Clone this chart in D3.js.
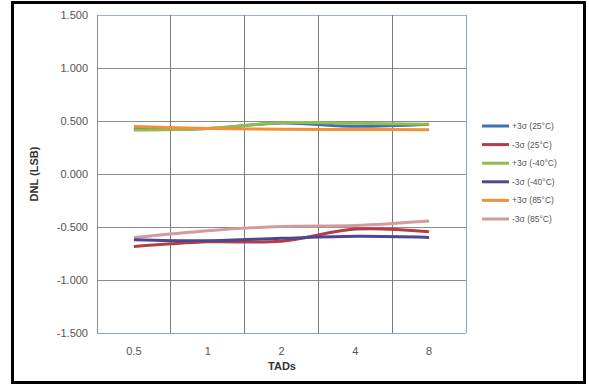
<!DOCTYPE html>
<html><head><meta charset="utf-8">
<script src="https://cdn.jsdelivr.net/npm/d3@7"></script>
<style>body{margin:0;background:#fff}svg{display:block}</style>
</head><body>
<svg id="c" width="589" height="385"></svg>
<script>
const categories = ["0.5", "1", "2", "4", "8"];
const seriesNames = ["+3σ (25°C)", "-3σ (25°C)", "+3σ (-40°C)", "-3σ (-40°C)", "+3σ (85°C)", "-3σ (85°C)"];
const plus25 = [0.42, 0.43, 0.48, 0.45, 0.47];
const minus25 = [-0.685, -0.64, -0.635, -0.52, -0.545];
const plusM40 = [0.415, 0.43, 0.483, 0.478, 0.47];
const minusM40 = [-0.62, -0.63, -0.607, -0.588, -0.598];
const plus85 = [0.448, 0.43, 0.422, 0.42, 0.418];
const minus85 = [-0.60, -0.535, -0.495, -0.485, -0.443];
const yTicks = [-1.5, -1.0, -0.5, 0, 0.5, 1.0, 1.5];
const colors = ["#3f70b5", "#b63c47", "#8dbf4e", "#4e468e", "#f2913a", "#d39ba0"];
const allSeries = [plus25, minus25, plusM40, minusM40, plus85, minus85];
// draw order: so that green covers blue, orange visible
const drawOrder = [0, 2, 4, 5, 1, 3];

const svg = d3.select("#c");
const L = 97, R = 466, T = 15, B = 333;

svg.append("rect").attr("x", 12.5).attr("y", 2.5).attr("width", 572).attr("height", 380)
  .attr("fill", "#fff").attr("stroke", "#000").attr("stroke-width", 3);

const x = d3.scaleBand().domain(categories).range([L, R]).padding(0);
const y = d3.scaleLinear().domain([-1.5, 1.5]).range([B, T]);

// horizontal gridlines
svg.append("g").selectAll("line").data(yTicks).join("line")
  .attr("x1", L).attr("x2", R).attr("y1", d => y(d)).attr("y2", d => y(d))
  .attr("stroke", d => d === 1.5 ? "#9fb0d4" : "#8c8c8c").attr("stroke-width", 1).attr("shape-rendering", "crispEdges");
// vertical gridlines at band boundaries
svg.append("g").selectAll("line").data(categories.slice(1)).join("line")
  .attr("x1", d => x(d)).attr("x2", d => x(d)).attr("y1", T).attr("y2", B)
  .attr("stroke", "#7a7a7a").attr("stroke-width", 1).attr("shape-rendering", "crispEdges");
// plot borders
svg.append("line").attr("x1", R).attr("x2", R).attr("y1", T).attr("y2", B).attr("stroke", "#8fa2cc").attr("shape-rendering", "crispEdges");
svg.append("line").attr("x1", L).attr("x2", L).attr("y1", T).attr("y2", B).attr("stroke", "#8c8c8c").attr("shape-rendering", "crispEdges");
svg.append("line").attr("x1", L).attr("x2", R).attr("y1", B).attr("y2", B).attr("stroke", "#8fa2cc").attr("shape-rendering", "crispEdges");

// y tick labels
const fmt = d => d3.format(".3f")(d).replace("\u2212", "-");
svg.append("g").selectAll("text").data(yTicks).join("text")
  .attr("x", 88).attr("y", d => y(d)).attr("dy", "0.35em").attr("text-anchor", "end")
  .attr("font-family", "Arial, Liberation Sans, sans-serif").attr("font-size", 11).attr("fill", "#555")
  .text(fmt);
// x tick labels
svg.append("g").selectAll("text").data(categories).join("text")
  .attr("x", d => x(d) + x.bandwidth() / 2).attr("y", 355).attr("text-anchor", "middle")
  .attr("font-family", "Arial, Liberation Sans, sans-serif").attr("font-size", 11).attr("fill", "#555")
  .text(d => d);
// axis titles
svg.append("text").attr("x", 282).attr("y", 370).attr("text-anchor", "middle")
  .attr("font-family", "Arial, Liberation Sans, sans-serif").attr("font-size", 11).attr("font-weight", "bold").attr("fill", "#333")
  .text("TADs");
svg.append("text").attr("transform", "translate(38,174) rotate(-90)").attr("text-anchor", "middle")
  .attr("font-family", "Arial, Liberation Sans, sans-serif").attr("font-size", 11).attr("font-weight", "bold").attr("fill", "#333")
  .text("DNL (LSB)");

// series lines
const line = d3.line()
  .x((d, i) => x(categories[i]) + x.bandwidth() / 2)
  .y(d => y(d))
  .curve(d3.curveCatmullRom.alpha(0.5));
svg.append("g").selectAll("path").data(drawOrder).join("path")
  .attr("d", i => line(allSeries[i]))
  .attr("fill", "none").attr("stroke", i => colors[i]).attr("stroke-width", 3).attr("stroke-linecap", "butt");

// legend
const lg = svg.append("g").attr("font-family", "Arial, Liberation Sans, sans-serif").attr("font-size", 8.5).attr("fill", "#555");
seriesNames.forEach((n, i) => {
  const yy = 126 + i * 18.6;
  lg.append("line").attr("x1", 482).attr("x2", 509).attr("y1", yy).attr("y2", yy)
    .attr("stroke", colors[i]).attr("stroke-width", 3);
  lg.append("text").attr("x", 512).attr("y", yy).attr("dy", "0.35em").text(n);
});
</script>
</body></html>
